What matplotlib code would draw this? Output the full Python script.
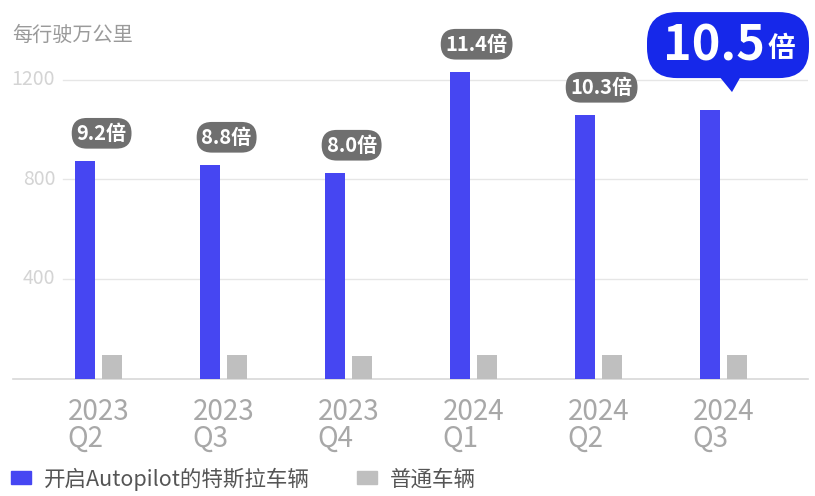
import matplotlib.pyplot as plt
from matplotlib.patches import Patch, FancyBboxPatch, Polygon
from matplotlib.transforms import blended_transform_factory

plt.rcParams['font.family'] = ['Noto Sans CJK SC', 'DejaVu Sans']

quarters = ['2023\nQ2', '2023\nQ3', '2023\nQ4', '2024\nQ1', '2024\nQ2', '2024\nQ3']
autopilot = [874, 858, 826, 1232, 1059, 1079]
normal = [95, 95, 92, 95, 93, 93]
ratios = ['9.2', '8.8', '8.0', '11.4', '10.3', '10.5']
yticks = [400, 800, 1200]

blue = '#4646f2'
grey = '#bfbfbf'
callout = '#1628ea'

fig = plt.figure(figsize=(8.15, 4.96), dpi=100)
ax = fig.add_axes([13 / 815, 117.5 / 496, 795 / 815, 323.4 / 496])

x = range(len(quarters))
off = 0.108
w = 0.155
ax.bar([i - off for i in x], autopilot, width=w, color=blue, zorder=3)
ax.bar([i + off for i in x], normal, width=w, color=grey, zorder=3)

ax.set_xlim(-0.684, 5.676)
ax.set_ylim(0, 1300)

# gridlines start to the right of the tick labels
for t in yticks:
    ax.axhline(t, xmin=50 / 795, xmax=1, color='#e6e6e6', lw=1, zorder=1)
    ax.text(0.053, t, str(t), transform=blended_transform_factory(ax.transAxes, ax.transData),
            ha='right', va='center', fontsize=14, color='#d4d4d4')

for s in ['top', 'right', 'left']:
    ax.spines[s].set_visible(False)
ax.spines['bottom'].set_color('#d8d8d8')
ax.spines['bottom'].set_linewidth(1.2)
ax.set_yticks([])

ax.set_xticks(list(x))
ax.set_xticklabels(quarters, fontsize=20, color='#a8a8a8', linespacing=0.86)
for lab in ax.get_xticklabels():
    lab.set_multialignment('left')
ax.tick_params(axis='x', length=0, pad=13)

fig.text(12 / 815, 1 - 35 / 496, '每行驶万公里', fontsize=14.5, color='#9a9a9a', va='center')

# ratio badges above each group
for i in range(len(quarters) - 1):
    ax.annotate(ratios[i] + '倍', xy=(i + 0.025, autopilot[i]), xytext=(0, 20),
                textcoords='offset points', ha='center', va='center',
                fontsize=14.5, fontweight='bold', color='white', annotation_clip=False,
                bbox=dict(boxstyle='round,pad=0.24,rounding_size=0.75', fc='#6f6f6f', ec='none'))

# highlighted callout for the latest quarter, placed in pixels relative to the bar top
last = len(quarters) - 1
bx, by = ax.transData.transform((last - off, autopilot[last]))
cx, cy = bx + 18, by + 65
box = FancyBboxPatch((cx - 73, cy - 25), 146, 50, boxstyle='round,pad=8,rounding_size=30',
                     fc=callout, ec='none', transform=None, zorder=5, clip_on=False)
fig.patches.append(box)
tip = Polygon([(cx - 9, cy - 31), (cx + 13, cy - 31), (cx + 4, cy - 47)], closed=True,
              fc=callout, ec='none', transform=None, zorder=5)
fig.patches.append(tip)
fig.text((cx - 14) / 815, (cy - 1) / 496, ratios[last], ha='center', va='center',
         fontsize=35, fontweight='bold', color='white', zorder=6)
fig.text((cx + 53) / 815, (cy - 4) / 496, '倍', ha='center', va='center',
         fontsize=20, fontweight='bold', color='white', zorder=6)

handles = [Patch(color=blue, label='开启Autopilot的特斯拉车辆'),
           Patch(color=grey, label='普通车辆')]
fig.legend(handles=handles, loc='lower left', bbox_to_anchor=(-0.01, -0.028), ncol=2,
           frameon=False, fontsize=15.5, handlelength=0.92, handleheight=0.55,
           columnspacing=2.2, handletextpad=0.6, labelcolor='#555555')

fig.savefig('out.png', dpi=100)
